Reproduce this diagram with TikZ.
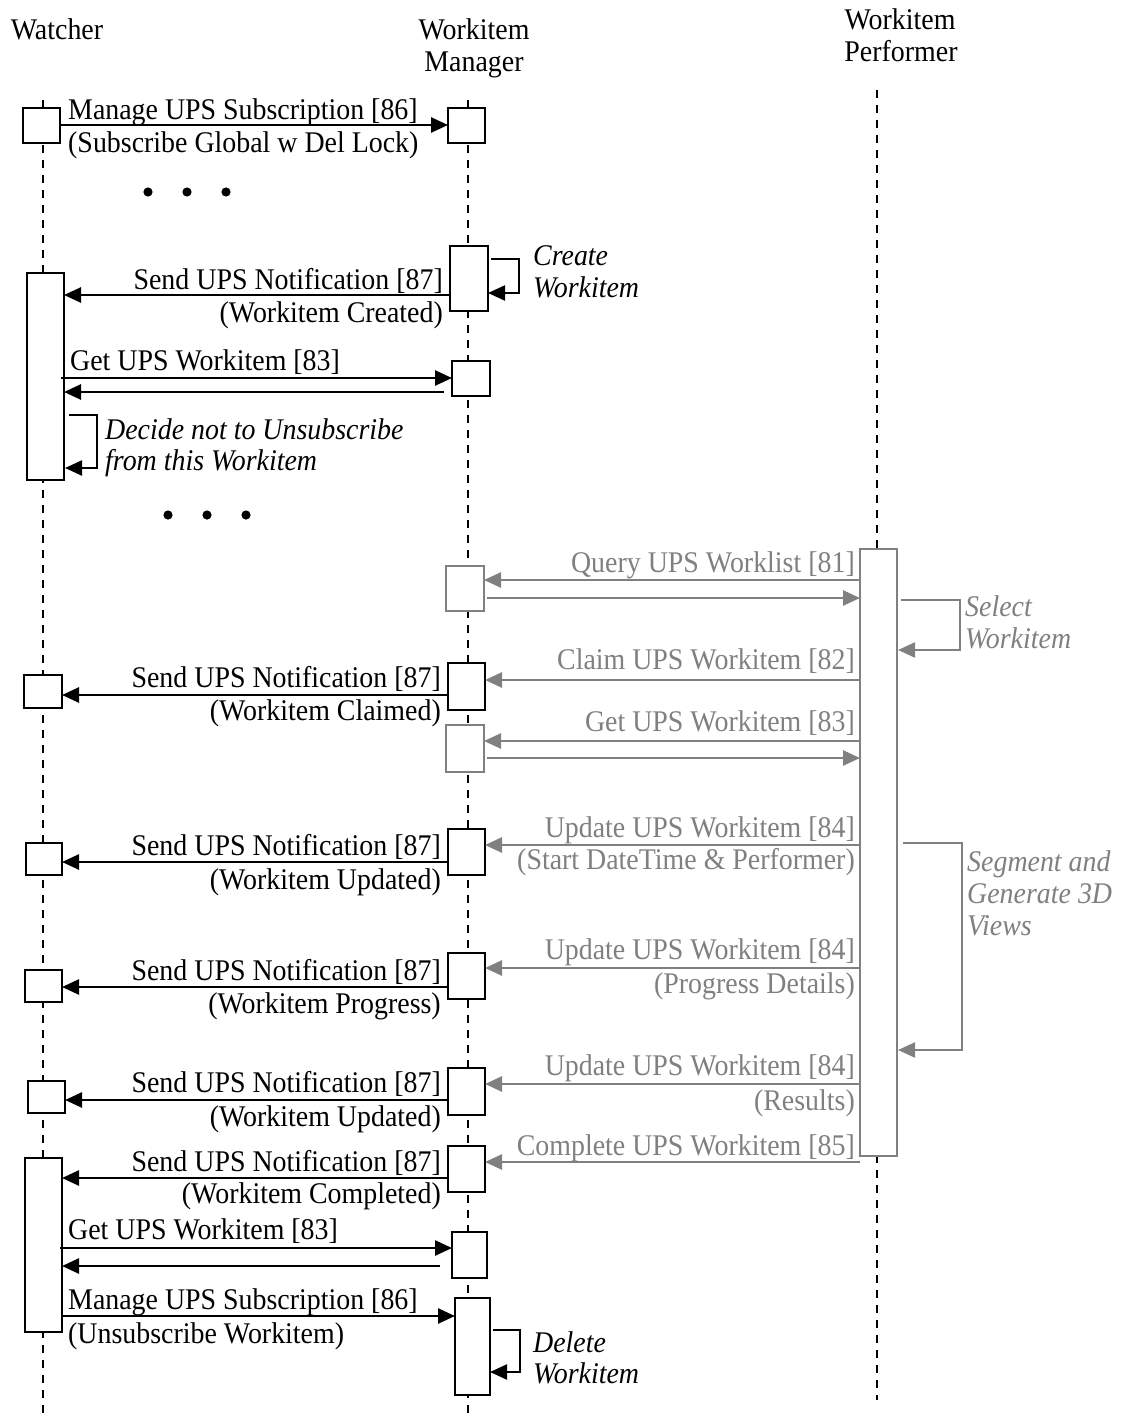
\documentclass[tikz,border=0pt]{standalone}
\usepackage{fontspec}
\setmainfont{Liberation Serif}[FakeStretch=0.93]
\usetikzlibrary{arrows.meta}
\definecolor{pgray}{RGB}{128,128,128}
\begin{document}
\begin{tikzpicture}[x=1pt,y=-1pt,
  font=\fontsize{30}{34}\selectfont,
  lifeline/.style={line width=1.6pt, dash pattern=on 8pt off 7pt},
  actbox/.style 2 args={draw, line width=2pt, fill=white, inner sep=0pt, outer sep=0pt, minimum width=#1, minimum height=#2},
  gray/.style={draw=pgray},
  msg/.style={line width=2.6pt, -{Triangle[length=17pt,width=15pt]}},
  gmsg/.style={msg, draw=pgray, color=pgray},
  selfmsg/.style={line width=2.2pt, -{Triangle[length=17pt,width=15pt]}},
  gselfmsg/.style={selfmsg, draw=pgray, color=pgray},
  lw/.style={anchor=base west, inner sep=0pt},
  le/.style={anchor=base east, inner sep=0pt},
  glw/.style={lw, text=pgray},
  gle/.style={le, text=pgray},
  note/.style={lw, font=\fontsize{30}{34}\selectfont\itshape},
  gnote/.style={note, text=pgray},
  hdr/.style={anchor=base, inner sep=0pt}
]
\useasboundingbox (0,0) rectangle (1120,1418);
\fill[white] (0,0) rectangle (1120,1418);

% headers
\node[hdr] (hw) at (57,40) {Watcher};
\node[hdr] (hm1) at (474,40) {Workitem};
\node[hdr] (hm2) at (474,72) {Manager};
\node[hdr] (hp1) at (900,30) {Workitem};
\node[hdr] (hp2) at (901,62) {Performer};

% lifelines
\coordinate (wtop) at (43,100);
\coordinate (wbot) at (43,1418);
\coordinate (mtop) at (468,100);
\coordinate (mbot) at (468,1418);
\coordinate (ptop) at (877,90);
\coordinate (pbot) at (877,1400);
\draw[lifeline] (wtop) -- (wbot);
\draw[lifeline] (mtop) -- (mbot);
\draw[lifeline] (ptop) -- (pbot);

% activation boxes
\node[actbox={37}{35}] (W1) at (41.5,125.5) {};
\node[actbox={37}{35}] (M1) at (466.5,125.5) {};
\node[actbox={38}{65}] (M2) at (469,278.5) {};
\node[actbox={37}{207}] (W2) at (45.5,376.5) {};
\node[actbox={38}{35}] (M3) at (471,378.5) {};
\node[actbox={37}{607},gray] (P1) at (878.5,852.5) {};
\node[actbox={38}{45},gray] (M4) at (465,588.5) {};
\node[actbox={37}{47}] (M5) at (466.5,686.5) {};
\node[actbox={38}{33}] (W3) at (43,691.5) {};
\node[actbox={38}{47},gray] (M6) at (465,748.5) {};
\node[actbox={37}{46}] (M7) at (466.5,852) {};
\node[actbox={36}{32}] (W4) at (44,859) {};
\node[actbox={37}{46}] (M8) at (466.5,976) {};
\node[actbox={37}{32}] (W5) at (43.5,986) {};
\node[actbox={37}{47}] (M9) at (466.5,1091.5) {};
\node[actbox={37}{32}] (W6) at (46.5,1097) {};
\node[actbox={37}{46}] (M10) at (466.5,1169) {};
\node[actbox={37}{174}] (W7) at (43.5,1245) {};
\node[actbox={35}{46}] (M11) at (469.5,1255) {};
\node[actbox={35}{97}] (M12) at (472.5,1346.5) {};

% dots
\foreach \x in {148,187,226} \fill (\x,192) circle (4.6);
\foreach \x in {168,207,246} \fill (\x,515) circle (4.6);

% row 1
\draw[msg] (W1.east |- 0,125) -- (M1.west |- 0,125);
\node[lw] (t1a) at (68,120) {Manage UPS Subscription [86]};
\node[lw] (t1b) at (68,152) {(Subscribe Global w Del Lock)};

% create workitem
\draw[selfmsg] ([xshift=3pt]M2.east |- 0,259) -- (519,259) -- (519,293) -- (M2.east |- 0,293);
\node[note] (t2a) at (533,265) {Create};
\node[note] (t2b) at (533,297) {Workitem};
\draw[msg] (M2.west |- 0,295) -- (W2.east |- 0,295);
\node[le] (t3a) at (443,289) {Send UPS Notification [87]};
\node[le] (t3b) at (443,322) {(Workitem Created)};

% get workitem
\draw[msg] ([xshift=-3pt]W2.east |- 0,378) -- (M3.west |- 0,378);
\draw[msg] ([xshift=-8pt]M3.west |- 0,392) -- (W2.east |- 0,392);
\node[lw] (t4) at (70,370) {Get UPS Workitem [83]};

% decide
\draw[selfmsg] ([xshift=5pt]W2.east |- 0,415) -- (97,415) -- (97,468) -- ([xshift=1pt]W2.east |- 0,468);
\node[note] (t5a) at (105,439) {Decide not to Unsubscribe};
\node[note] (t5b) at (105,470) {from this Workitem};

% query
\draw[gmsg] (P1.west |- 0,580) -- (M4.east |- 0,580);
\draw[gmsg] ([xshift=3pt]M4.east |- 0,598) -- (P1.west |- 0,598);
\node[gle] (t6) at (855,572) {Query UPS Worklist [81]};

% select
\draw[gselfmsg] ([xshift=4pt]P1.east |- 0,600) -- (960,600) -- (960,650) -- ([xshift=1pt]P1.east |- 0,650);
\node[gnote] (t7a) at (965,616) {Select};
\node[gnote] (t7b) at (965,648) {Workitem};

% claim
\draw[gmsg] (P1.west |- 0,680) -- (M5.east |- 0,680);
\node[gle] (t8) at (855,669) {Claim UPS Workitem [82]};
\draw[msg] (M5.west |- 0,695) -- (W3.east |- 0,695);
\node[le] (t9a) at (441,687) {Send UPS Notification [87]};
\node[le] (t9b) at (441,720) {(Workitem Claimed)};

% get (performer)
\draw[gmsg] (P1.west |- 0,741) -- (M6.east |- 0,741);
\draw[gmsg] ([xshift=3pt]M6.east |- 0,758) -- (P1.west |- 0,758);
\node[gle] (t10) at (855,731) {Get UPS Workitem [83]};

% update 1
\draw[gmsg] (P1.west |- 0,845) -- (M7.east |- 0,845);
\node[gle] (t11a) at (855,837) {Update UPS Workitem [84]};
\node[gle] (t11b) at (855,869) {(Start DateTime \& Performer)};
\draw[msg] (M7.west |- 0,862) -- (W4.east |- 0,862);
\node[le] (t12a) at (441,855) {Send UPS Notification [87]};
\node[le] (t12b) at (441,889) {(Workitem Updated)};

% segment
\draw[gselfmsg] ([xshift=6pt]P1.east |- 0,843) -- (962,843) -- (962,1050) -- ([xshift=1pt]P1.east |- 0,1050);
\node[gnote] (t13a) at (967,871) {Segment and};
\node[gnote] (t13b) at (967,903) {Generate 3D};
\node[gnote] (t13c) at (967,935) {Views};

% update 2
\draw[gmsg] (P1.west |- 0,968) -- (M8.east |- 0,968);
\node[gle] (t14a) at (855,959) {Update UPS Workitem [84]};
\node[gle] (t14b) at (855,993) {(Progress Details)};
\draw[msg] (M8.west |- 0,987) -- (W5.east |- 0,987);
\node[le] (t15a) at (441,980) {Send UPS Notification [87]};
\node[le] (t15b) at (441,1013) {(Workitem Progress)};

% update 3
\draw[gmsg] (P1.west |- 0,1084) -- (M9.east |- 0,1084);
\node[gle] (t16a) at (855,1075) {Update UPS Workitem [84]};
\node[gle] (t16b) at (855,1110) {(Results)};
\draw[msg] (M9.west |- 0,1100) -- (W6.east |- 0,1100);
\node[le] (t17a) at (441,1092) {Send UPS Notification [87]};
\node[le] (t17b) at (441,1126) {(Workitem Updated)};

% complete
\draw[gmsg] (P1.west |- 0,1162) -- (M10.east |- 0,1162);
\node[gle] (t18) at (855,1155) {Complete UPS Workitem [85]};
\draw[msg] (M10.west |- 0,1178) -- (W7.east |- 0,1178);
\node[le] (t19a) at (441,1171) {Send UPS Notification [87]};
\node[le] (t19b) at (441,1203) {(Workitem Completed)};

% get (watcher)
\draw[msg] ([xshift=-2pt]W7.east |- 0,1248) -- (M11.west |- 0,1248);
\draw[msg] ([xshift=-12pt]M11.west |- 0,1266) -- (W7.east |- 0,1266);
\node[lw] (t20) at (68,1239) {Get UPS Workitem [83]};

% unsubscribe
\draw[msg] (W7.east |- 0,1316) -- (M12.west |- 0,1316);
\node[lw] (t21a) at (68,1309) {Manage UPS Subscription [86]};
\node[lw] (t21b) at (68,1343) {(Unsubscribe Workitem)};

% delete
\draw[selfmsg] ([xshift=3pt]M12.east |- 0,1330) -- (520,1330) -- (520,1372) -- (M12.east |- 0,1372);
\node[note] (t22a) at (533,1352) {Delete};
\node[note] (t22b) at (533,1383) {Workitem};
\end{tikzpicture}
\end{document}
